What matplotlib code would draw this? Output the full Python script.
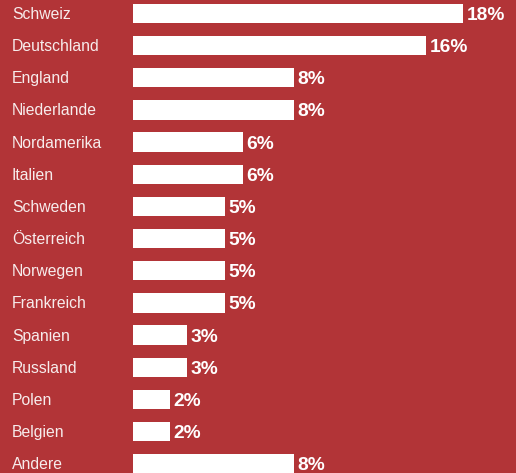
import matplotlib.pyplot as plt
from matplotlib.transforms import offset_copy

plt.rcParams['font.family'] = ['Liberation Sans', 'DejaVu Sans']

laender = ['Schweiz', 'Deutschland', 'England', 'Niederlande', 'Nordamerika',
           'Italien', 'Schweden', 'Österreich', 'Norwegen', 'Frankreich',
           'Spanien', 'Russland', 'Polen', 'Belgien', 'Andere']
# Balkenlängen und die angezeigten Werte
werte = [18.0, 16.0, 8.8, 8.8, 6.0, 6.0, 5.0, 5.0, 5.0, 5.0, 2.95, 2.95, 2.0, 2.0, 8.8]
beschriftung = ['18%', '16%', '8%', '8%', '6%', '6%', '5%', '5%', '5%', '5%',
                '3%', '3%', '2%', '2%', '8%']

rot = '#B23437'

fig = plt.figure(figsize=(5.16, 4.73), dpi=100)
fig.patch.set_facecolor(rot)
ax = fig.add_axes([133 / 516, 0, 383 / 516, 1])
ax.set_facecolor(rot)

pos = list(range(len(laender)))
ax.barh(pos, werte, height=0.6, color='white', edgecolor='none')

ax.set_xlim(0, 383 / 18.33)
ax.set_ylim(14.29, -0.42)
ax.axis('off')

# Texte: Versalhöhe mittig zum Balken -> Grundlinie etwas nach unten
trans_l = offset_copy(ax.get_yaxis_transform(), fig=fig, x=0, y=-5.5, units='dots')
for i, name in enumerate(laender):
    ax.text(-121 / 383, i, name, transform=trans_l,
            ha='left', va='baseline', fontsize=11.3, color='#F7ECEC', clip_on=False)

trans = offset_copy(ax.transData, fig=fig, x=3.5, y=-6.5, units='dots')
for i, (w, lab) in enumerate(zip(werte, beschriftung)):
    ax.text(w, i, lab, transform=trans, ha='left', va='baseline',
            fontsize=13.8, fontweight='bold', color='white')

fig.savefig('out.png', dpi=100, facecolor=rot)
